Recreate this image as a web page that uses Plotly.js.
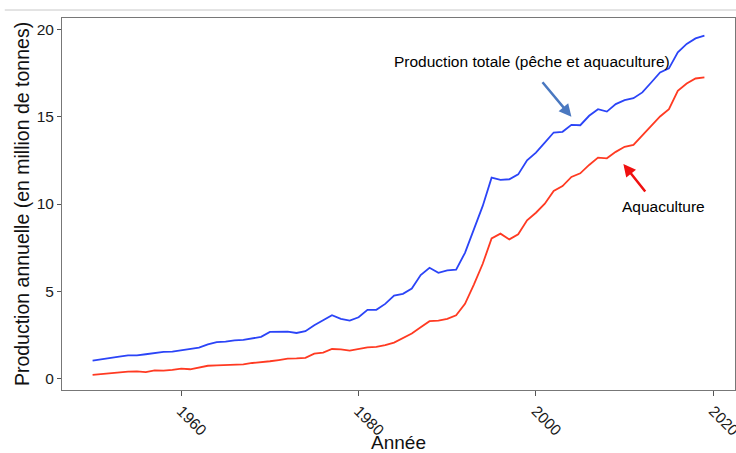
<!DOCTYPE html>
<html>
<head>
<meta charset="utf-8">
<script src="https://cdn.plot.ly/plotly-3.0.1.min.js"></script>
<style>html,body{margin:0;padding:0;background:#fff;}#chart{width:736px;height:453px;}</style>
</head>
<body>
<div id="chart"></div>
<script>
const years = [];
for (let y = 1950; y <= 2019; y++) years.push(y);

const totalProduction = [
  1.02, 1.08, 1.15, 1.24, 1.32, 1.32, 1.38, 1.45, 1.52, 1.53,
  1.60, 1.66, 1.76, 1.95, 2.08, 2.10, 2.18, 2.20, 2.30, 2.38,
  2.66, 2.68, 2.68, 2.60, 2.70, 3.05, 3.35, 3.62, 3.41, 3.31,
  3.50, 3.93, 3.93, 4.27, 4.75, 4.85, 5.15, 5.92, 6.34, 6.05,
  6.19, 6.23, 7.20, 8.55, 9.89, 11.51, 11.38, 11.42, 11.70, 12.51,
  12.95, 13.52, 14.10, 14.14, 14.54, 14.52, 15.06, 15.44, 15.30, 15.73,
  15.96, 16.07, 16.40, 16.97, 17.55, 17.78, 18.70, 19.18, 19.50, 19.66
];

const aquaculture = [
  0.20, 0.25, 0.30, 0.34, 0.38, 0.40, 0.36, 0.46, 0.44, 0.48,
  0.56, 0.52, 0.62, 0.72, 0.74, 0.75, 0.78, 0.80, 0.88, 0.92,
  0.98, 1.05, 1.13, 1.14, 1.17, 1.42, 1.48, 1.68, 1.66, 1.59,
  1.68, 1.78, 1.80, 1.90, 2.05, 2.32, 2.57, 2.93, 3.28, 3.31,
  3.41, 3.62, 4.27, 5.38, 6.57, 8.03, 8.30, 7.97, 8.26, 9.06,
  9.50, 10.02, 10.75, 11.03, 11.55, 11.76, 12.24, 12.66, 12.62, 12.99,
  13.28, 13.39, 13.91, 14.48, 15.02, 15.44, 16.49, 16.91, 17.20, 17.26
];

const xTicks = [1960, 1980, 2000, 2020];
const yTicks = [0, 5, 10, 15, 20];
const labelTotal = "Production totale (pêche et aquaculture)";
const labelAqua = "Aquaculture";

const font = "Liberation Sans, Arial, Helvetica, sans-serif";

const traces = [
  {x: years, y: totalProduction, type: "scatter", mode: "lines",
   line: {color: "#2b44f7", width: 1.8}, name: labelTotal, hoverinfo: "x+y"},
  {x: years, y: aquaculture, type: "scatter", mode: "lines",
   line: {color: "#ff3a22", width: 1.8}, name: labelAqua, hoverinfo: "x+y"}
];

const layout = {
  width: 736, height: 453,
  margin: {l: 62, r: 1, t: 18, b: 63},
  paper_bgcolor: "#fff", plot_bgcolor: "#fff",
  showlegend: false,
  font: {family: font, color: "#222"},
  xaxis: {
    range: [1946.55, 2022.45],
    tickvals: xTicks, ticktext: xTicks.map(String),
    tickangle: 45,
    ticklabeloverflow: "allow",
    ticks: "outside", ticklen: 5, tickcolor: "#555", tickwidth: 1,
    tickfont: {size: 15.5, color: "#1a1a1a"},
    showgrid: false, zeroline: false,
    showline: true, linecolor: "#777", linewidth: 1, mirror: true,
    title: {text: "Année", font: {size: 19, color: "#111"}, standoff: 10},
    automargin: false
  },
  yaxis: {
    range: [-0.67, 20.67],
    tickvals: yTicks, ticktext: yTicks.map(String),
    ticks: "outside", ticklen: 4, tickcolor: "#555", tickwidth: 1,
    tickfont: {size: 15.5, color: "#1a1a1a"},
    showgrid: false, zeroline: false,
    showline: true, linecolor: "#777", linewidth: 1, mirror: true,
    title: {text: "Production annuelle (en million de tonnes)", font: {size: 19.5, color: "#111"}, standoff: 1},
    automargin: false
  },
  shapes: [
    {type: "line", xref: "paper", yref: "paper", x0: -0.085, x1: 1.0015, y0: 1.0215, y1: 1.0215,
     line: {color: "#c8c8c8", width: 1}}
  ],
  annotations: [
    {x: 1999.5, y: 18.16, xref: "x", yref: "y", text: labelTotal, showarrow: false,
     font: {size: 15.5, color: "#000"}},
    {x: 2004.0, y: 15.0, xref: "x", yref: "y", ax: 2000.6, ay: 17.07, axref: "x", ayref: "y",
     showarrow: true, arrowhead: 2, arrowsize: 1, arrowwidth: 2.5, arrowcolor: "#4a78c0", text: ""},
    {x: 2014.4, y: 9.83, xref: "x", yref: "y", text: labelAqua, showarrow: false,
     font: {size: 15.5, color: "#000"}},
    {x: 2009.86, y: 12.3, xref: "x", yref: "y", ax: 2012.46, ay: 10.63, axref: "x", ayref: "y",
     showarrow: true, arrowhead: 2, arrowsize: 1, arrowwidth: 2.5, arrowcolor: "#f01010", text: ""}
  ]
};

Plotly.newPlot("chart", traces, layout, {displayModeBar: false, staticPlot: true});
</script>
</body>
</html>
